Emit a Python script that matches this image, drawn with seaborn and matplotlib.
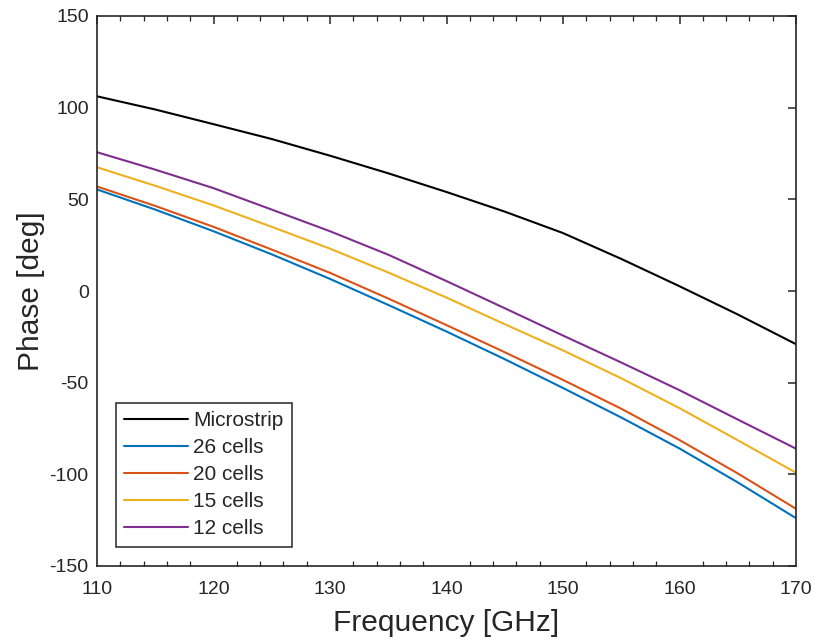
import numpy as np
import pandas as pd
import matplotlib
matplotlib.use("Agg")
import matplotlib.pyplot as plt
import seaborn as sns
from matplotlib.ticker import MultipleLocator

freq = [110, 115, 120, 125, 130, 135, 140, 145, 150, 155, 160, 165, 170]
microstrip = [106.2, 99.0, 91.0, 82.9, 73.8, 64.2, 54.0, 43.3, 31.6, 17.5, 2.6, -12.8, -29.0]
cells26 = [55.4, 44.4, 32.6, 20.0, 6.6, -7.6, -22.1, -37.2, -52.9, -69.0, -85.9, -104.4, -123.9]
cells20 = [57.0, 46.4, 35.0, 22.6, 9.9, -4.1, -18.6, -33.4, -48.5, -64.2, -81.3, -99.5, -118.8]
cells15 = [67.5, 57.4, 46.7, 35.0, 23.1, 10.1, -3.6, -18.1, -32.4, -47.6, -63.9, -81.4, -99.1]
cells12 = [75.7, 66.2, 56.1, 44.4, 32.6, 19.8, 5.4, -9.4, -24.3, -39.0, -54.1, -70.1, -86.0]

series_names = ["Microstrip", "26 cells", "20 cells", "15 cells", "12 cells"]
series_vals = [microstrip, cells26, cells20, cells15, cells12]
colors = ["#000000", "#0072BD", "#D95319", "#EDB120", "#7E2F8E"]

x_ticks = [110, 120, 130, 140, 150, 160, 170]
y_ticks = [-150, -100, -50, 0, 50, 100, 150]

df = pd.DataFrame({
    "Frequency": np.tile(freq, len(series_names)),
    "Phase": np.concatenate(series_vals),
    "Series": np.repeat(series_names, len(freq)),
})

sns.set_theme(style="white")
plt.rcParams["font.family"] = ["Liberation Sans", "DejaVu Sans"]
plt.rcParams["axes.unicode_minus"] = False

fig = plt.figure(figsize=(8.15, 6.43), dpi=100)
ax = fig.add_axes([97 / 815, 77 / 643, 699 / 815, 550 / 643])

sns.lineplot(data=df, x="Frequency", y="Phase", hue="Series",
             hue_order=series_names, palette=colors, linewidth=1.5,
             ax=ax, sort=False)

ax.set_xlim(110, 170)
ax.set_ylim(-150, 150)
ax.set_xticks(x_ticks)
ax.set_yticks(y_ticks)
ax.xaxis.set_minor_locator(MultipleLocator(2))
ax.tick_params(axis="both", which="major", direction="in", length=6, width=1.1,
               color="#262626", labelsize=14, labelcolor="#262626",
               top=True, right=True, pad=6)
ax.tick_params(axis="x", which="major", pad=11)
ax.tick_params(axis="x", which="minor", direction="in", length=3.5, width=0.9,
               color="#262626", top=True, bottom=True)
for s in ax.spines.values():
    s.set_visible(True)
    s.set_color("#262626")
    s.set_linewidth(1.2)

ax.set_xlabel("Frequency [GHz]", fontsize=21.5, color="#262626", labelpad=8)
ax.set_ylabel("Phase [deg]", fontsize=21.5, color="#262626", labelpad=3)

leg = ax.legend(loc="lower left", bbox_to_anchor=(0.027, 0.035), fontsize=15,
                frameon=True, fancybox=False, handlelength=3.05, handletextpad=0.25,
                borderpad=0.4, labelspacing=0.39, borderaxespad=0)
leg.get_frame().set_edgecolor("#262626")
leg.get_frame().set_linewidth(1.1)
leg.get_frame().set_alpha(1)
for line in leg.get_lines():
    line.set_linewidth(1.5)

fig.savefig("out.png", dpi=100)
